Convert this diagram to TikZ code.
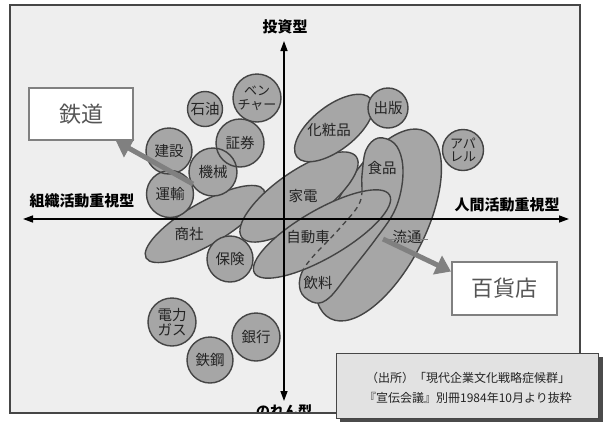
\documentclass[tikz,border=0pt]{standalone}
\usepackage{fontspec}
\setmainfont{Noto Sans CJK JP}
\usetikzlibrary{arrows.meta}
\definecolor{shapefill}{RGB}{166,166,166}
\definecolor{shapeline}{RGB}{68,68,68}
\definecolor{panelbg}{RGB}{238,238,238}
\definecolor{framegray}{RGB}{70,70,70}
\definecolor{callgray}{RGB}{128,128,128}
\definecolor{calltext}{RGB}{85,85,85}
\definecolor{labelink}{RGB}{35,35,35}
\definecolor{srcfill}{RGB}{226,226,226}
\definecolor{srcshadow}{RGB}{75,75,75}
\begin{document}
\begin{tikzpicture}[x=1pt,y=-1pt,
  bubblefill/.style={circle,inner sep=0pt,fill=shapefill},
  bubble/.style={circle,inner sep=0pt,draw=shapeline,line width=1.4pt,align=center,
    text=labelink,font=\fontsize{14.5}{15}\selectfont},
  blob/.style={fill=shapefill,draw=shapeline,line width=1.4pt},
  lbl/.style={inner sep=0pt,text=labelink,font=\fontsize{14.5}{15}\selectfont},
  axislbl/.style={inner sep=0pt,text=black,font=\bfseries\fontsize{15}{16}\selectfont},
  axisline/.style={line width=1.4pt,draw=black,
    {Triangle[length=10pt,width=7pt]}-{Triangle[length=10pt,width=7pt]}},
  callbox/.style={draw=callgray,line width=2pt,fill=white,inner sep=0pt,
    text=calltext,font=\fontsize{22}{24}\selectfont},
  callarrow/.style={draw=callgray,line width=5pt,-{Triangle[length=15pt,width=20pt]}},
  srcbox/.style={draw=framegray,line width=1pt,fill=srcfill,inner sep=0pt}
]
% page and panel
\useasboundingbox (0,0) rectangle (603,429);
\fill[white] (0,0) rectangle (603,429);
\draw[framegray,line width=1.2pt,fill=panelbg] (10,5) rectangle (580,413);

% big ellipses
\path[blob] (378,225) ellipse[x radius=105pt,y radius=47pt,rotate=63];
\def\foodpath{plot[smooth cycle,tension=0.6] coordinates{(378,138) (394,143) (402,160) (402,185) (394,212) (375,240) (350,272) (330,297) (316,303) (302,294) (300,278) (310,260) (340,228) (360,202) (362,175) (366,150)}}
\path[blob] \foodpath;
\path[blob] (205,224) ellipse[x radius=68pt,y radius=21pt,rotate=30];
\path[blob] (299,197) ellipse[x radius=70pt,y radius=25pt,rotate=35];
\path[blob] (334,128) ellipse[x radius=47pt,y radius=22pt,rotate=38];
\path[blob] (322,234) ellipse[x radius=78pt,y radius=24pt,rotate=30];
\begin{scope}
  \clip (322,234) ellipse[x radius=77pt,y radius=23pt,rotate=30];
  \draw[shapeline,line width=1.3pt,dash pattern=on 5pt off 4pt] \foodpath;
\end{scope}

% left cluster of circles: fills first, then outlines
\node[bubblefill,minimum size=35pt] (sekiyuF) at (205,109) {};
\node[bubblefill,minimum size=48pt] (ventureF) at (257,98) {};
\node[bubblefill,minimum size=48pt] (shokenF) at (240,143) {};
\node[bubblefill,minimum size=46pt] (kensetsuF) at (169,151) {};
\node[bubblefill,minimum size=48pt] (kikaiF) at (213,172) {};
\node[bubblefill,minimum size=47pt] (unyuF) at (170,194) {};
\node[bubble,minimum size=35pt] (sekiyu) at (sekiyuF) {石油};
\node[bubble,minimum size=48pt,font=\fontsize{13}{14}\selectfont] (venture) at (ventureF) {ベン\\チャー};
\node[bubble,minimum size=48pt] (shoken) at (shokenF) {証券};
\node[bubble,minimum size=46pt] (kensetsu) at (kensetsuF) {建設};
\node[bubble,minimum size=48pt] (kikai) at (kikaiF) {機械};
\node[bubble,minimum size=47pt] (unyu) at (unyuF) {運輸};

% other circles
\node[bubblefill,minimum size=46pt] (hokenF) at (230,259) {};
\node[bubblefill,minimum size=40pt] (shuppanF) at (388,108) {};
\node[bubblefill,minimum size=41pt] (apparelF) at (463,150) {};
\node[bubblefill,minimum size=48pt] (denryokuF) at (172,322) {};
\node[bubblefill,minimum size=46pt] (tekkoF) at (210,360) {};
\node[bubblefill,minimum size=48pt] (ginkoF) at (256,337) {};
\node[bubble,minimum size=46pt] (hoken) at (hokenF) {保険};
\node[bubble,minimum size=40pt] (shuppan) at (shuppanF) {出版};
\node[bubble,minimum size=41pt,font=\fontsize{13}{13.5}\selectfont] (apparel) at (apparelF) {アパ\\レル};
\node[bubble,minimum size=48pt] (denryoku) at (denryokuF) {電力\\ガス};
\node[bubble,minimum size=46pt] (tekko) at (tekkoF) {鉄鋼};
\node[bubble,minimum size=48pt] (ginko) at (ginkoF) {銀行};

% axes
\coordinate (axL) at (23,219);
\coordinate (axR) at (569,219);
\coordinate (axT) at (284,41);
\coordinate (axB) at (284,401);
\draw[axisline] (axL) -- (axR);
\draw[axisline] (axB) -- (axT);
\node[axislbl] (toushi) at (285,27) {投資型};
\node[axislbl] (soshiki) at (82,201) {組織活動重視型};
\node[axislbl] (ningen) at (507,205) {人間活動重視型};
\begin{scope}
  \clip (10,5) rectangle (580,412.4);
  \node[axislbl,font=\bfseries\fontsize{14}{15}\selectfont] (noren) at (284,411) {のれん型};
\end{scope}
\draw[framegray,line width=1.2pt] (10,413) -- (336,413);

% ellipse labels
\node[lbl] (shosha) at (189,234) {商社};
\node[lbl] (kaden) at (303,196) {家電};
\node[lbl] (keshohin) at (329,130) {化粧品};
\node[lbl] (shokuhin) at (382,168) {食品};
\node[lbl] (jidosha) at (308,237) {自動車};
\node[lbl] (inryo) at (318,283) {飲料};
\node[lbl] (ryutsu) at (407,237) {流通};

% call-outs
\node[callbox,minimum width=104pt,minimum height=52pt] (tetsudo) at (81,114) {鉄道};
\node[callbox,minimum width=105pt,minimum height=53pt] (hyakka) at (504.5,288.5) {百貨店};
\coordinate (tetsuTail) at (193,184);
\coordinate (ryutsuTail) at (383,239);
\coordinate (ryutsuEnd) at (428,239);
\draw[callgray,line width=0.9pt] (ryutsuTail) -- (ryutsuEnd);
\draw[callarrow] (tetsuTail) -- ([xshift=35pt]tetsudo.south);
\draw[callarrow] (ryutsuTail) -- ([yshift=17pt]hyakka.west);

% source box
\fill[srcshadow] (340,357) rectangle (603,422);
\node[srcbox,minimum width=262pt,minimum height=65pt] (source) at (467,385.5) {};
\node[inner sep=0pt,align=center,text=labelink,font=\fontsize{12}{20}\selectfont] (srctext) at (468,388)
  {（出所）「現代企業文化戦略症候群」\\『宣伝会議』別冊1984年10月より抜粋};
\end{tikzpicture}
\end{document}
